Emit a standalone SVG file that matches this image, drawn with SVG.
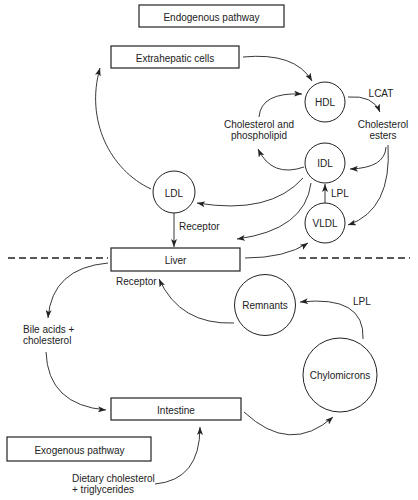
<svg xmlns="http://www.w3.org/2000/svg" width="418" height="500" viewBox="0 0 418 500">
<style>
text{font-family:"Liberation Sans",Arial,sans-serif;font-size:10px;fill:#222}
.c{text-anchor:middle}
.box{fill:#fff;stroke:#222;stroke-width:1.2}
.node{fill:#fff;stroke:#222;stroke-width:1}
.con path{fill:none;stroke:#222;stroke-width:0.9}
.dash{stroke:#222;stroke-width:1.5;stroke-dasharray:7 4;fill:none}
</style>
<defs>
<marker id="ah" viewBox="0 0 8 6" refX="8" refY="3" markerWidth="8" markerHeight="6" markerUnits="userSpaceOnUse" orient="auto">
<path d="M0,0 L8,3 L0,6 L2,3 z" fill="#222"/>
</marker>
</defs>
<line class="dash" x1="8" y1="258" x2="108" y2="258"/>
<line class="dash" x1="299" y1="258" x2="410" y2="258"/>
<g id="endogenous"><rect class="box" x="139" y="5" width="145" height="22"/><text class="c" x="211.5" y="20.5">Endogenous pathway</text></g>
<g id="extrahepatic"><rect class="box" x="111" y="46" width="128" height="22"/><text class="c" x="175" y="61.5">Extrahepatic cells</text></g>
<g id="hdl"><circle class="node" cx="325" cy="102" r="20"/><text class="c" x="325" y="105.5">HDL</text></g>
<g id="lcat"><text class="c" x="381" y="97">LCAT</text></g>
<g id="chol-phos"><text class="c" x="259" y="128">Cholesterol and</text><text class="c" x="259" y="139">phospholipid</text></g>
<g id="chol-esters"><text class="c" x="383" y="128">Cholesterol</text><text class="c" x="383" y="139">esters</text></g>
<g id="idl"><circle class="node" cx="325" cy="163" r="20"/><text class="c" x="325" y="167">IDL</text></g>
<g id="ldl"><circle class="node" cx="174" cy="192" r="21"/><text class="c" x="174" y="196.5">LDL</text></g>
<g id="vldl"><circle class="node" cx="325" cy="223" r="20"/><text class="c" x="325" y="227">VLDL</text></g>
<g id="lpl1"><text x="331" y="196.5">LPL</text></g>
<g id="receptor1"><text x="179" y="230">Receptor</text></g>
<g id="liver"><rect class="box" x="111" y="248" width="129" height="23"/><text class="c" x="175.5" y="263.5">Liver</text></g>
<g id="receptor2"><text x="116" y="285">Receptor</text></g>
<g id="remnants"><circle class="node" cx="265" cy="305" r="30.5"/><text class="c" x="265" y="309">Remnants</text></g>
<g id="lpl2"><text x="353" y="305">LPL</text></g>
<g id="bile"><text x="23" y="333">Bile acids +</text><text x="23" y="344">cholesterol</text></g>
<g id="chylomicrons"><circle class="node" cx="340" cy="375" r="37"/><text class="c" x="340" y="379">Chylomicrons</text></g>
<g id="intestine"><rect class="box" x="111" y="398" width="130" height="22"/><text class="c" x="176" y="413.5">Intestine</text></g>
<g id="exogenous"><rect class="box" x="7" y="437" width="144" height="24"/><text class="c" x="79.5" y="453.5">Exogenous pathway</text></g>
<g id="dietary"><text x="72" y="482">Dietary cholesterol</text><text x="72" y="493">+ triglycerides</text></g>
<g id="connectors" class="con">
<path d="M243,57 Q295,52 312,81" marker-end="url(#ah)"/>
<path d="M259,117 Q261,92 302,94" marker-end="url(#ah)"/>
<path d="M348,97 Q373,95 380,112" marker-end="url(#ah)"/>
<path d="M304,167 Q272,178 258,149" marker-end="url(#ah)"/>
<path d="M386,147 Q385,168 350,169" marker-end="url(#ah)"/>
<path d="M388,145 Q392,210 348,225" marker-end="url(#ah)"/>
<path d="M303,178 Q270,215 197,203" marker-end="url(#ah)"/>
<path d="M311,183 Q305,230 237,239" marker-end="url(#ah)"/>
<path d="M325,203 L325,184" marker-end="url(#ah)"/>
<path d="M151,189 C110,170 85,120 100,68" marker-end="url(#ah)"/>
<path d="M174,213 L174,247" marker-end="url(#ah)"/>
<path d="M245,258 Q285,258 308,243" marker-end="url(#ah)"/>
<path d="M108,263 Q52,268 48,318" marker-end="url(#ah)"/>
<path d="M234,323 Q180,325 159,279" marker-end="url(#ah)"/>
<path d="M363,339 Q365,295 300,302" marker-end="url(#ah)"/>
<path d="M46,352 Q48,405 106,410" marker-end="url(#ah)"/>
<path d="M244,412 Q290,455 333,417" marker-end="url(#ah)"/>
<path d="M155,484 Q200,480 200,427" marker-end="url(#ah)"/>
</g>
</svg>
